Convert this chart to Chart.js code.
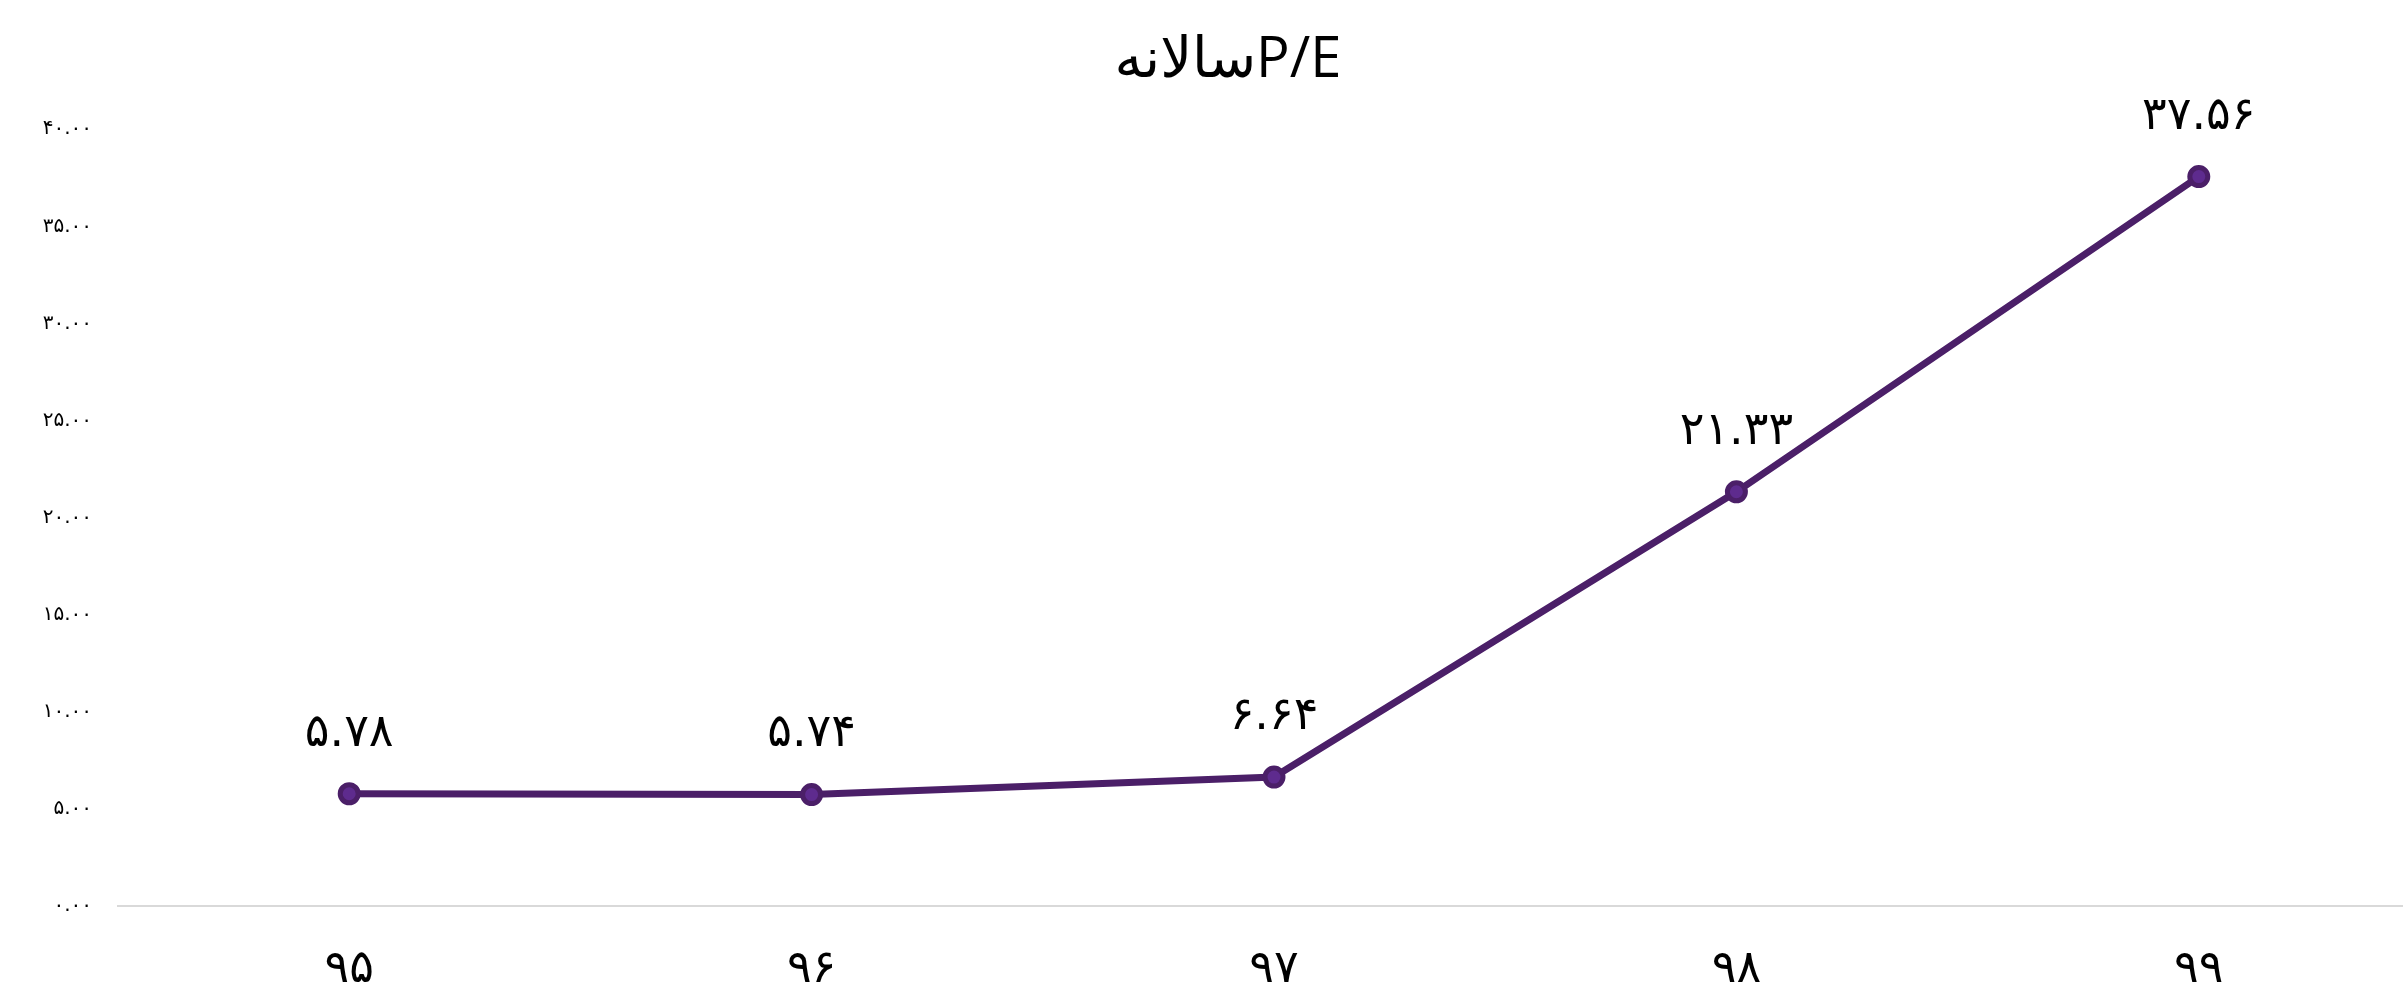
<!DOCTYPE html>
<html lang="fa">

<head>
    <meta charset="UTF-8">
    <title>P/E</title>
    <script src="https://cdn.jsdelivr.net/npm/chart.js@4"></script>
    <style>
        html, body { margin: 0; padding: 0; background: #fff; overflow: hidden; }
        .box { width: 2444px; height: 991px; }
    </style>
</head>

<body>
    <div class="box">
        <canvas id="myChart" width="2444" height="991"></canvas>
    </div>
</body>

<script>
    // داده ها
    var sal = ['95', '96', '97', '98', '99'];
    var pe = [5.78, 5.74, 6.64, 21.33, 37.56];
    var yMin = 0;
    var yMax = 40;
    var yStep = 5;

    var reqam = '۰۱۲۳۴۵۶۷۸۹';

    function farsi(matn) {
        return String(matn).replace(/[0-9]/g, function (d) { return reqam[d]; });
    }

    // نوشتن مقدار بالای هر نقطه
    const barchasb = {
        id: 'barchasb',
        afterDatasetsDraw(chart) {
            var ctx = chart.ctx;
            var meta = chart.getDatasetMeta(0);
            ctx.save();
            ctx.fillStyle = '#000000';
            ctx.font = '46px "DejaVu Sans"';
            ctx.textAlign = 'center';
            ctx.textBaseline = 'middle';
            meta.data.forEach(function (p, i) {
                ctx.fillText(farsi(pe[i].toFixed(2)), p.x, p.y - 60);
            });
            ctx.restore();
        }
    };

    const data = {
        labels: sal.map(farsi),
        datasets: [{
            label: 'P/E',
            data: pe,
            borderColor: '#4b1f68',
            borderWidth: 7,
            pointRadius: 9,
            pointBorderWidth: 5,
            pointBorderColor: '#4b1f68',
            pointBackgroundColor: '#5e2b8e',
            tension: 0
        }]
    };

    const config = {
        type: 'line',
        data: data,
        plugins: [barchasb],
        options: {
            responsive: false,
            animation: false,
            layout: { padding: { top: 0, right: 0, bottom: 0, left: 12 } },
            plugins: {
                legend: { display: false },
                tooltip: { enabled: false },
                title: {
                    display: true,
                    text: 'سالانهP/E',
                    color: '#000000',
                    font: { family: '"Open Sans", "DejaVu Sans"', size: 56, weight: 'normal' },
                    padding: { top: 27, bottom: 35 }
                }
            },
            scales: {
                x: {
                    offset: true,
                    grid: { display: false, drawTicks: false },
                    border: { display: true, color: '#d9d9d9', width: 2 },
                    ticks: {
                        color: '#000000',
                        font: { family: '"DejaVu Sans"', size: 46 },
                        padding: 36
                    },
                    afterFit: function (axis) { axis.height = 85; }
                },
                y: {
                    min: yMin,
                    max: yMax,
                    grid: { display: false, drawTicks: false },
                    border: { display: false },
                    ticks: {
                        stepSize: yStep,
                        color: '#000000',
                        font: { family: '"DejaVu Sans"', size: 20 },
                        padding: 26,
                        callback: function (v) { return farsi(Number(v).toFixed(2)); }
                    },
                    afterFit: function (axis) { axis.width = 106; }
                }
            }
        }
    };

    const myChart = new Chart(document.getElementById('myChart'), config);
</script>

</html>
